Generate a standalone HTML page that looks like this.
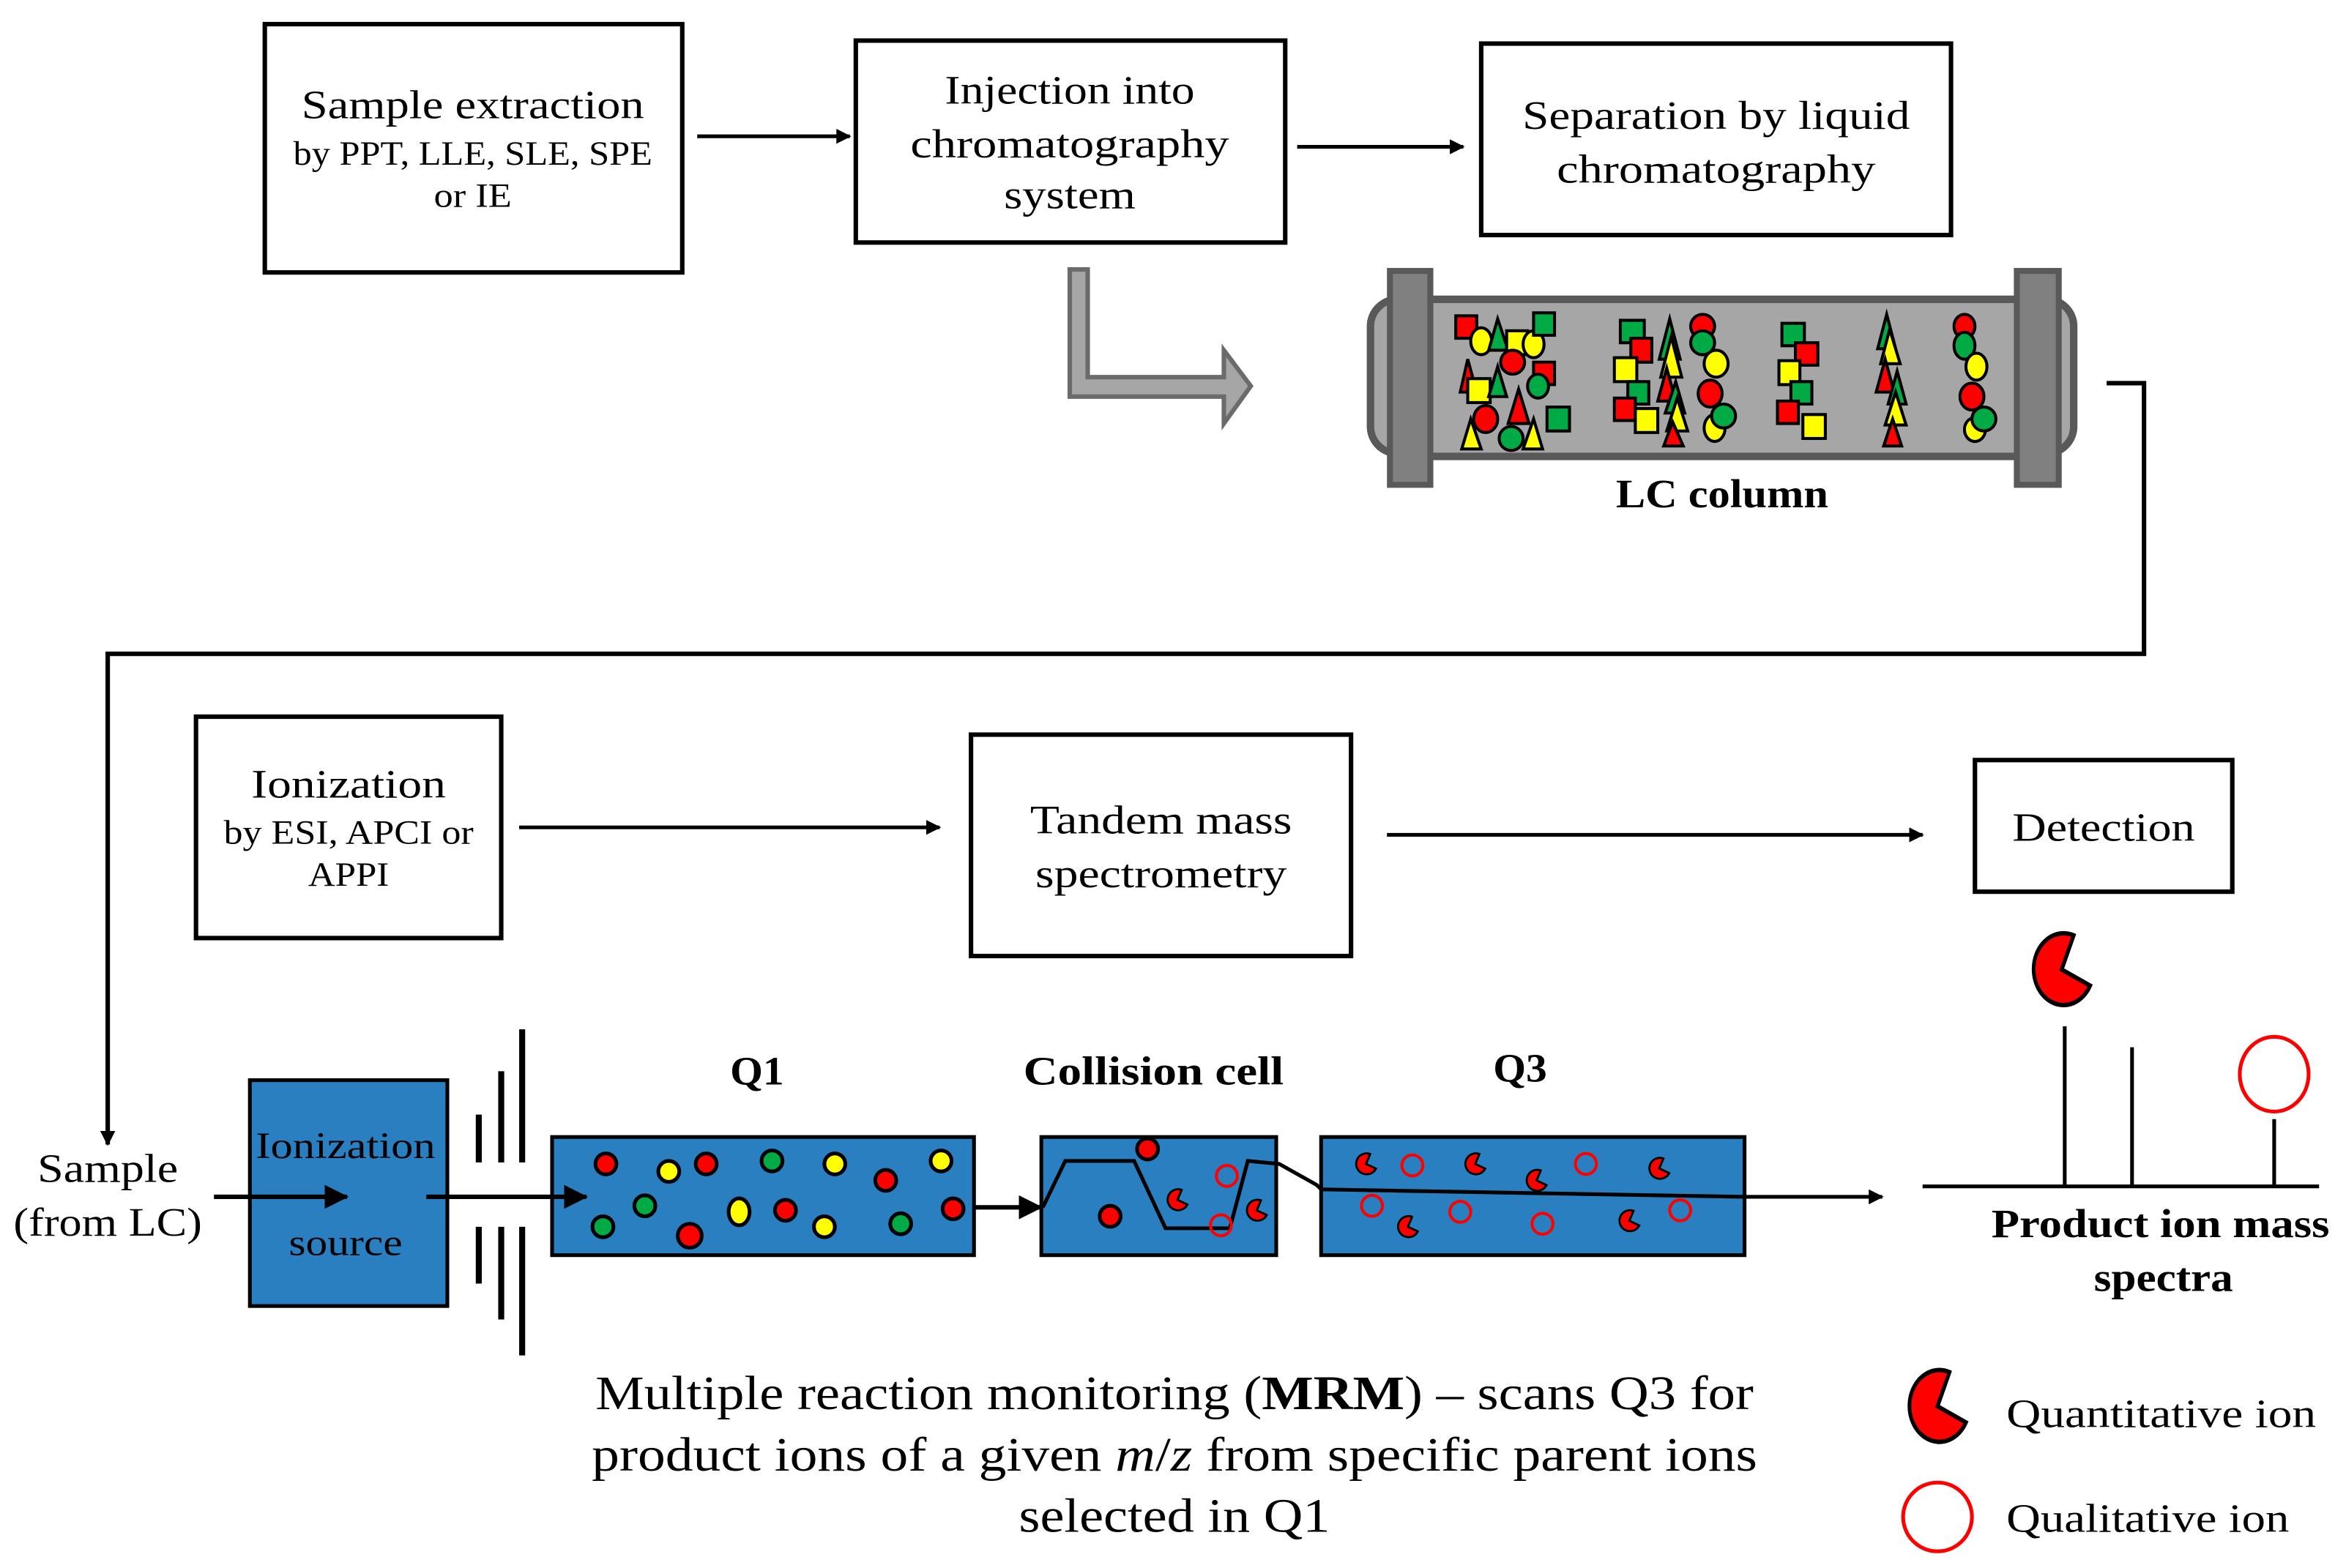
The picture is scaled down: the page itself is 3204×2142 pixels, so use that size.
<!DOCTYPE html>
<html><head><meta charset="utf-8"><style>html,body{margin:0;padding:0;background:#fff}svg{display:block}</style></head>
<body>
<svg width="3204" height="2142" viewBox="0 0 1568 1048" xmlns="http://www.w3.org/2000/svg" font-family="Liberation Serif, serif">
<defs>
<marker id="ah" markerWidth="10" markerHeight="10" refX="9" refY="5" orient="auto" markerUnits="userSpaceOnUse"><path d="M0,0 L10,5 L0,10 Z" fill="#000"/></marker>
<marker id="ah2" markerWidth="16" markerHeight="16" refX="15" refY="8" orient="auto" markerUnits="userSpaceOnUse"><path d="M0,0 L16,8 L0,16 Z" fill="#000"/></marker>
<path id="pac" d="M0,0 L8,-19 A20 20 0 1 0 19,9 Z"/>
</defs>
<rect width="1568" height="1048" fill="#fff"/>
<g fill="none" stroke="#000" stroke-width="3">
<rect x="177" y="16" width="279" height="166"/>
<rect x="572" y="27" width="287" height="135"/>
<rect x="990" y="29" width="314" height="128"/>
<rect x="131" y="479" width="204" height="148"/>
<rect x="649" y="491" width="254" height="148"/>
<rect x="1320" y="508" width="172" height="88"/>
</g>
<g font-size="27" text-anchor="middle" lengthAdjust="spacingAndGlyphs">
<text x="316" y="79" textLength="229" lengthAdjust="spacingAndGlyphs">Sample extraction</text>
<text x="316" y="110" font-size="23" textLength="240" lengthAdjust="spacingAndGlyphs">by PPT, LLE, SLE, SPE</text>
<text x="316" y="138" font-size="23" textLength="52" lengthAdjust="spacingAndGlyphs">or IE</text>
<text x="715" y="69" textLength="167" lengthAdjust="spacingAndGlyphs">Injection into</text>
<text x="715" y="105" textLength="213" lengthAdjust="spacingAndGlyphs">chromatography</text>
<text x="715" y="139" textLength="88" lengthAdjust="spacingAndGlyphs">system</text>
<text x="1147" y="86" textLength="259" lengthAdjust="spacingAndGlyphs">Separation by liquid</text>
<text x="1147" y="122" textLength="213" lengthAdjust="spacingAndGlyphs">chromatography</text>
<text x="233" y="533" textLength="130" lengthAdjust="spacingAndGlyphs">Ionization</text>
<text x="233" y="564" font-size="23" textLength="167" lengthAdjust="spacingAndGlyphs">by ESI, APCI or</text>
<text x="233" y="592" font-size="23" textLength="54" lengthAdjust="spacingAndGlyphs">APPI</text>
<text x="776" y="557" textLength="175" lengthAdjust="spacingAndGlyphs">Tandem mass</text>
<text x="776" y="593" textLength="168" lengthAdjust="spacingAndGlyphs">spectrometry</text>
<text x="1406" y="562" textLength="122" lengthAdjust="spacingAndGlyphs">Detection</text>
<text x="72" y="790" textLength="94" lengthAdjust="spacingAndGlyphs">Sample</text>
<text x="72" y="826" textLength="126" lengthAdjust="spacingAndGlyphs">(from LC)</text>
<text x="1151" y="339" font-weight="bold" textLength="142" lengthAdjust="spacingAndGlyphs">LC column</text>
<text x="506" y="725" font-weight="bold" textLength="36" lengthAdjust="spacingAndGlyphs">Q1</text>
<text x="771" y="725" font-weight="bold" textLength="174" lengthAdjust="spacingAndGlyphs">Collision cell</text>
<text x="1016" y="723" font-weight="bold" textLength="36" lengthAdjust="spacingAndGlyphs">Q3</text>
<text x="1444" y="827" font-weight="bold" textLength="226" lengthAdjust="spacingAndGlyphs">Product ion mass</text>
<text x="1446" y="863" font-weight="bold" textLength="93" lengthAdjust="spacingAndGlyphs">spectra</text>
<text x="785" y="942" font-size="32" textLength="774" lengthAdjust="spacingAndGlyphs">Multiple reaction monitoring (<tspan font-weight="bold">MRM</tspan>) – scans Q3 for</text>
<text x="785" y="983" font-size="32" textLength="779" lengthAdjust="spacingAndGlyphs">product ions of a given <tspan font-style="italic">m</tspan>/<tspan font-style="italic">z</tspan> from specific parent ions</text>
<text x="785" y="1024" font-size="32" textLength="208" lengthAdjust="spacingAndGlyphs">selected in Q1</text>
<text x="1341" y="954" text-anchor="start" textLength="207" lengthAdjust="spacingAndGlyphs">Quantitative ion</text>
<text x="1341" y="1024" text-anchor="start" textLength="189" lengthAdjust="spacingAndGlyphs">Qualitative ion</text>
</g>
<g stroke="#000" stroke-width="2.5" fill="none" marker-end="url(#ah)">
<line x1="466" y1="91" x2="568" y2="91"/>
<line x1="867" y1="98" x2="978" y2="98"/>
<line x1="347" y1="553" x2="628" y2="553"/>
<line x1="927" y1="558" x2="1285" y2="558"/>
<polyline points="1408,256 1433,256 1433,437 72,437 72,765" stroke-width="3"/>
</g>
<path d="M715,180 L727,180 L727,252 L818,252 L818,234 L836,258 L818,283 L818,265 L715,265 Z" fill="#a6a6a6" stroke="#6b6b6b" stroke-width="3"/>
<rect x="916" y="200" width="470" height="103" rx="18" fill="#a6a6a6" stroke="#595959" stroke-width="5"/>
<rect x="955" y="200" width="395" height="105" fill="#a6a6a6" stroke="#595959" stroke-width="5"/>
<rect x="929" y="181" width="27" height="143" fill="#808080" stroke="#595959" stroke-width="4"/>
<rect x="1348" y="181" width="28" height="143" fill="#808080" stroke="#595959" stroke-width="4"/>
<g stroke="#000" stroke-width="2">
<rect x="973" y="211" width="14" height="15" fill="#f00"/>
<ellipse cx="990" cy="228" rx="7" ry="9" fill="#ff0"/>
<polygon points="1001,213 995,234 1008,234" fill="#0a4"/>
<rect x="1007" y="221" width="14" height="16" fill="#ff0"/>
<ellipse cx="1025" cy="230" rx="7" ry="9" fill="#ff0"/>
<rect x="1025" y="209" width="14" height="15" fill="#0a4"/>
<ellipse cx="1011" cy="242" rx="8" ry="8" fill="#f00"/>
<polygon points="981,240 976,262 987,262" fill="#f00"/>
<rect x="1025" y="242" width="14" height="15" fill="#f00"/>
<ellipse cx="1028" cy="258" rx="7" ry="8" fill="#0a4"/>
<rect x="981" y="253" width="15" height="16" fill="#ff0"/>
<polygon points="1001,245 995,265 1007,265" fill="#0a4"/>
<polygon points="1015,260 1008,283 1022,283" fill="#f00"/>
<ellipse cx="993" cy="280" rx="8" ry="9" fill="#f00"/>
<rect x="1034" y="272" width="15" height="16" fill="#0a4"/>
<polygon points="983,280 977,300 990,300" fill="#ff0"/>
<ellipse cx="1010" cy="293" rx="8" ry="8" fill="#0a4"/>
<polygon points="1025,280 1018,300 1031,300" fill="#ff0"/>
<rect x="1083" y="214" width="16" height="15" fill="#0a4"/>
<rect x="1090" y="226" width="14" height="16" fill="#f00"/>
<rect x="1079" y="239" width="15" height="16" fill="#ff0"/>
<rect x="1088" y="255" width="14" height="15" fill="#0a4"/>
<rect x="1079" y="266" width="14" height="15" fill="#f00"/>
<rect x="1093" y="273" width="15" height="16" fill="#ff0"/>
<polygon points="1116,213 1109,240 1123,240" fill="#0a4"/>
<polygon points="1117,225 1110,252 1124,252" fill="#ff0"/>
<polygon points="1114,246 1108,268 1120,268" fill="#f00"/>
<polygon points="1120,255 1113,276 1126,276" fill="#0a4"/>
<polygon points="1121,266 1114,288 1128,288" fill="#ff0"/>
<polygon points="1118,282 1112,298 1125,298" fill="#f00"/>
<ellipse cx="1138" cy="218" rx="8" ry="8" fill="#f00"/>
<ellipse cx="1138" cy="229" rx="8" ry="8" fill="#0a4"/>
<ellipse cx="1147" cy="243" rx="8" ry="9" fill="#ff0"/>
<ellipse cx="1143" cy="263" rx="8" ry="9" fill="#f00"/>
<ellipse cx="1146" cy="286" rx="7" ry="9" fill="#ff0"/>
<ellipse cx="1152" cy="278" rx="8" ry="8" fill="#0a4"/>
<rect x="1191" y="216" width="15" height="15" fill="#0a4"/>
<rect x="1200" y="229" width="15" height="15" fill="#f00"/>
<rect x="1189" y="241" width="14" height="16" fill="#ff0"/>
<rect x="1197" y="255" width="14" height="15" fill="#0a4"/>
<rect x="1188" y="268" width="14" height="15" fill="#f00"/>
<rect x="1205" y="277" width="15" height="16" fill="#ff0"/>
<polygon points="1261,210 1255,233 1267,233" fill="#0a4"/>
<polygon points="1263,220 1257,243 1270,243" fill="#ff0"/>
<polygon points="1260,240 1254,262 1266,262" fill="#f00"/>
<polygon points="1268,248 1262,270 1274,270" fill="#0a4"/>
<polygon points="1267,262 1260,284 1274,284" fill="#ff0"/>
<polygon points="1265,280 1259,298 1271,298" fill="#f00"/>
<ellipse cx="1313" cy="218" rx="7" ry="8" fill="#f00"/>
<ellipse cx="1313" cy="231" rx="7" ry="9" fill="#0a4"/>
<ellipse cx="1321" cy="245" rx="7" ry="9" fill="#ff0"/>
<ellipse cx="1318" cy="265" rx="8" ry="9" fill="#f00"/>
<ellipse cx="1320" cy="287" rx="7" ry="8" fill="#ff0"/>
<ellipse cx="1326" cy="280" rx="8" ry="8" fill="#0a4"/>
</g>
<rect x="167" y="722" width="132" height="151" fill="#2a7fc0" stroke="#000" stroke-width="2.5"/>
<text x="231" y="774" font-size="25" text-anchor="middle" textLength="120" lengthAdjust="spacingAndGlyphs">Ionization</text>
<text x="231" y="839" font-size="25" text-anchor="middle" textLength="76" lengthAdjust="spacingAndGlyphs">source</text>
<g stroke="#000" stroke-width="4" fill="none">
<line x1="320" y1="745" x2="320" y2="777"/><line x1="335" y1="716" x2="335" y2="777"/><line x1="349" y1="688" x2="349" y2="777"/>
<line x1="320" y1="820" x2="320" y2="858"/><line x1="335" y1="820" x2="335" y2="882"/><line x1="349" y1="820" x2="349" y2="906"/>
</g>
<g stroke="#000" stroke-width="3" fill="none" marker-end="url(#ah2)">
<line x1="143" y1="800" x2="232" y2="800"/>
<line x1="285" y1="800" x2="392" y2="800"/>
<line x1="651" y1="807" x2="696" y2="807"/>
</g>
<rect x="369" y="760" width="282" height="79" fill="#2a7fc0" stroke="#000" stroke-width="2.5"/>
<rect x="696" y="760" width="157" height="79" fill="#2a7fc0" stroke="#000" stroke-width="2.5"/>
<rect x="883" y="760" width="283" height="79" fill="#2a7fc0" stroke="#000" stroke-width="2.5"/>
<line x1="369" y1="800" x2="392" y2="800" stroke="#000" stroke-width="3" marker-end="url(#ah2)"/>
<g stroke="#000" stroke-width="2.5">
<ellipse cx="405" cy="778" rx="7" ry="7" fill="#f00"/><ellipse cx="447" cy="783" rx="7" ry="7" fill="#ff0"/><ellipse cx="472" cy="778" rx="7" ry="7" fill="#f00"/><ellipse cx="516" cy="776" rx="7" ry="7" fill="#0a4"/><ellipse cx="558" cy="778" rx="7" ry="7" fill="#ff0"/><ellipse cx="592" cy="789" rx="7" ry="7" fill="#f00"/><ellipse cx="629" cy="776" rx="7" ry="7" fill="#ff0"/>
<ellipse cx="431" cy="806" rx="7" ry="7" fill="#0a4"/><ellipse cx="494" cy="810" rx="7" ry="9" fill="#ff0"/><ellipse cx="525" cy="809" rx="7" ry="7" fill="#f00"/><ellipse cx="637" cy="808" rx="7" ry="7" fill="#f00"/>
<ellipse cx="403" cy="820" rx="7" ry="7" fill="#0a4"/><ellipse cx="461" cy="826" rx="8" ry="8" fill="#f00"/><ellipse cx="551" cy="820" rx="7" ry="7" fill="#ff0"/><ellipse cx="602" cy="818" rx="7" ry="7" fill="#0a4"/>
<ellipse cx="767" cy="768" rx="7" ry="7" fill="#f00"/><ellipse cx="742" cy="813" rx="7" ry="7" fill="#f00"/>
</g>
<polyline points="697,807 712,776 758,776 779,821 822,821 834,776 855,778 880,792 883,795 1166,800" fill="none" stroke="#000" stroke-width="2.5"/>
<line x1="1166" y1="800" x2="1258" y2="800" stroke="#000" stroke-width="2.5" marker-end="url(#ah)"/>
<g fill="none" stroke="#f00" stroke-width="2">
<circle cx="820" cy="786" r="7"/><circle cx="816" cy="819" r="7"/>
<circle cx="944" cy="779" r="7"/><circle cx="1060" cy="778" r="7"/><circle cx="917" cy="806" r="7"/><circle cx="976" cy="810" r="7"/><circle cx="1031" cy="818" r="7"/><circle cx="1123" cy="809" r="7"/>
</g>
<g fill="#f00" stroke="#000" stroke-width="4">
<use href="#pac" transform="translate(787,802) scale(0.35)"/>
<use href="#pac" transform="translate(840,809) scale(0.35)"/>
<use href="#pac" transform="translate(913,778) scale(0.35)"/>
<use href="#pac" transform="translate(986,778) scale(0.35)"/>
<use href="#pac" transform="translate(1027,789) scale(0.35)"/>
<use href="#pac" transform="translate(1109,781) scale(0.35)"/>
<use href="#pac" transform="translate(941,820) scale(0.35)"/>
<use href="#pac" transform="translate(1089,816) scale(0.35)"/>
</g>
<g stroke="#000" stroke-width="2.5">
<line x1="1285" y1="793" x2="1550" y2="793"/>
<line x1="1380" y1="686" x2="1380" y2="793"/>
<line x1="1425" y1="700" x2="1425" y2="793"/>
<line x1="1520" y1="748" x2="1520" y2="793"/>
</g>
<g fill="#f00" stroke="#000" stroke-width="2.5">
<use href="#pac" transform="translate(1378,648) scale(1,1.2)"/>
<use href="#pac" transform="translate(1295,940) scale(1,1.2)"/>
</g>
<ellipse cx="1520" cy="718" rx="23" ry="25" fill="none" stroke="#f00" stroke-width="2.5"/>
<circle cx="1295" cy="1014" r="23" fill="none" stroke="#f00" stroke-width="2.5"/>
</svg>
</body></html>
